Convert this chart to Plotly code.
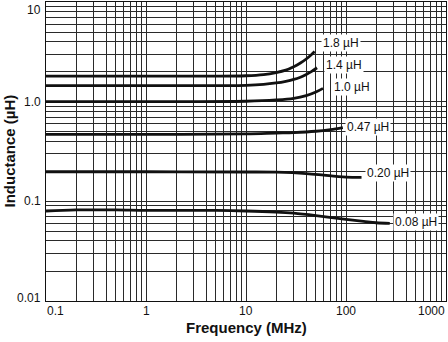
import math
import plotly.graph_objects as go

# Inductance vs. frequency for six inductor values
freq_18 = [0.1, 1, 5, 10, 15, 20, 25, 30, 35, 40, 45, 48.6]
ind_18 = [1.80, 1.80, 1.80, 1.82, 1.87, 1.96, 2.07, 2.24, 2.44, 2.68, 2.96, 3.18]

freq_14 = [0.1, 1, 10, 15, 20, 25, 30, 35, 40, 45, 51.3]
ind_14 = [1.45, 1.45, 1.46, 1.49, 1.54, 1.60, 1.67, 1.76, 1.87, 2.00, 2.19]

freq_10 = [0.1, 1, 10, 20, 30, 40, 50, 58.9]
ind_10 = [1.00, 1.00, 1.01, 1.04, 1.08, 1.15, 1.25, 1.36]

freq_047 = [0.1, 1, 10, 20, 30, 50, 70, 93]
ind_047 = [0.47, 0.47, 0.475, 0.485, 0.49, 0.505, 0.525, 0.55]

freq_020 = [0.1, 1, 10, 20, 40, 60, 80, 100, 143]
ind_020 = [0.198, 0.198, 0.197, 0.196, 0.190, 0.183, 0.178, 0.175, 0.174]

freq_008 = [0.1, 0.2, 0.5, 1, 5, 10, 20, 30, 50, 100, 150, 200, 274]
ind_008 = [0.080, 0.082, 0.082, 0.081, 0.081, 0.080, 0.078, 0.076, 0.072,
           0.066, 0.063, 0.061, 0.060]

series_labels = ["1.8 µH", "1.4 µH", "1.0 µH", "0.47 µH", "0.20 µH", "0.08 µH"]

x_tick_values = [0.1, 1, 10, 100, 1000]
x_tick_text = ["0.1", "1", "10", "100", "1000"]
y_tick_values = [10, 1, 0.1, 0.01]
y_tick_text = ["10", "1.0", "0.1", "0.01"]

# 1-2-...-9 grid per decade
x_grid = [m * 10.0 ** e for e in range(-1, 3) for m in range(1, 10)] + [1000]
y_grid = [m * 10.0 ** e for e in range(-2, 1) for m in range(1, 10)] + [10]

series = [
    (freq_18, ind_18),
    (freq_14, ind_14),
    (freq_10, ind_10),
    (freq_047, ind_047),
    (freq_020, ind_020),
    (freq_008, ind_008),
]
# label placement relative to the end of each curve (pixels)
label_offsets = [(6, 9), (7, 3), (9, 1), (2, 1), (3, 4), (3, 1)]

FONT = "Liberation Sans, Arial, Helvetica, sans-serif"

fig = go.Figure()
for (f, L) in series:
    fig.add_trace(go.Scatter(
        x=f, y=L, mode="lines",
        line=dict(color="#111111", width=2.8, shape="spline"),
        showlegend=False, hoverinfo="skip"))

annotations = []
for (f, L), text, (dx, dy) in zip(series, series_labels, label_offsets):
    annotations.append(dict(
        x=math.log10(f[-1]), y=math.log10(L[-1]), xref="x", yref="y",
        text=text, showarrow=False, xanchor="left", yanchor="middle",
        xshift=dx, yshift=dy, bgcolor="white", borderpad=1,
        font=dict(family=FONT, size=12, color="#111")))

# x tick labels
for v, t in zip(x_tick_values, x_tick_text):
    anchor = "center"
    if v == x_tick_values[0]:
        anchor = "left"
    elif v == x_tick_values[-1]:
        anchor = "right"
    annotations.append(dict(
        x=math.log10(v), y=0, xref="x", yref="paper", text=t, showarrow=False,
        xanchor=anchor, yanchor="top", yshift=-2, borderpad=0,
        font=dict(family=FONT, size=12, color="#111")))

# y tick labels
for v, t in zip(y_tick_values, y_tick_text):
    yanchor, ys = "middle", 0
    if v == y_tick_values[0]:
        yanchor, ys = "top", 1
    elif v == y_tick_values[-1]:
        yanchor, ys = "middle", 3
    annotations.append(dict(
        x=0, y=math.log10(v), xref="paper", yref="y", text=t, showarrow=False,
        xanchor="right", yanchor=yanchor, xshift=-3, yshift=ys,
        font=dict(family=FONT, size=12, color="#111")))

# axis titles
annotations.append(dict(
    x=0.5, y=0, xref="paper", yref="paper", text="<b>Frequency (MHz)</b>",
    showarrow=False, xanchor="center", yanchor="top", yshift=-17, borderpad=0,
    font=dict(family=FONT, size=15, color="#111")))
annotations.append(dict(
    x=0, y=0.5, xref="paper", yref="paper", text="<b>Inductance (µH)</b>",
    showarrow=False, xanchor="center", yanchor="middle", xshift=-37,
    textangle=-90, font=dict(family=FONT, size=15, color="#111")))

axis_common = dict(
    type="log", showticklabels=False, ticks="", showgrid=True,
    gridcolor="#2a2a2a", gridwidth=1, zeroline=False,
    showline=True, linecolor="#111", linewidth=1, mirror=True)

fig.update_layout(
    width=448, height=342,
    margin=dict(l=46, r=2, t=2, b=41),
    paper_bgcolor="white", plot_bgcolor="white",
    xaxis=dict(range=[-1, 3], tickvals=x_grid, **axis_common),
    yaxis=dict(range=[-2, 1], tickvals=y_grid, **axis_common),
    annotations=annotations,
)

fig.write_html("out.html")
